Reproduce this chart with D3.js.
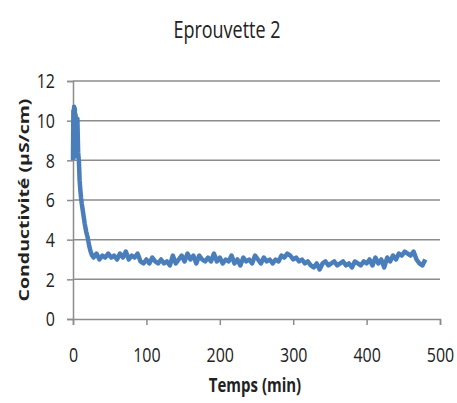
<!DOCTYPE html>
<html>
<head>
<meta charset="utf-8">
<script src="https://cdn.jsdelivr.net/npm/d3@7"></script>
<style>
    body { margin: 0; background: #fff; }
    text { font-family: "Open Sans", "Noto Sans", sans-serif; fill: #222; }
</style>
</head>
<body>
<div id="chart"></div>
<script>
// data
var timeMin = [0, 0.5, 1, 1.5, 2, 2.5, 3, 3.5, 4, 5, 6, 7, 8, 9, 10, 11, 12, 14, 16, 18, 20, 22, 24, 26,
    28, 32, 36, 40, 44, 48, 52, 56, 60, 64, 68, 72, 76, 80, 84, 88, 92, 96, 100, 104, 108, 112, 116, 120,
    124, 128, 132, 136, 140, 144, 148, 152, 156, 160, 164, 168, 172, 176, 180, 184, 188, 192, 196, 200,
    204, 208, 212, 216, 220, 224, 228, 232, 236, 240, 244, 248, 252, 256, 260, 264, 268, 272, 276, 280,
    284, 288, 292, 296, 300, 304, 308, 312, 316, 320, 324, 328, 332, 336, 340, 344, 348, 352, 356, 360,
    364, 368, 372, 376, 380, 384, 388, 392, 396, 400, 404, 408, 412, 416, 420, 424, 428, 432, 436, 440,
    444, 448, 452, 456, 460, 464, 468, 472, 476, 480];
var conductivity = [8.0, 10.5, 8.3, 10.7, 8.5, 10.6, 8.2, 10.3, 9.5, 8.9, 10.1, 8.4, 8.0, 7.0, 6.5, 6.1, 5.8, 5.3, 4.8, 4.4, 4.1, 3.7, 3.4, 3.2,
    3.1, 3.3, 3.0, 3.2, 3.1, 3.3, 3.1, 3.2, 3.0, 3.3, 3.1, 3.4, 3.0, 3.2, 3.1, 3.3, 2.9, 2.8, 3.0, 2.8, 3.1, 2.9, 2.8, 3.0,
    2.8, 2.9, 2.7, 3.2, 2.8, 3.0, 3.2, 2.9, 3.3, 3.0, 3.2, 2.8, 3.2, 3.0, 2.9, 3.1, 2.9, 3.3, 2.9, 3.1,
    2.8, 3.0, 2.9, 3.2, 2.8, 3.0, 2.7, 3.1, 2.9, 3.0, 2.8, 3.2, 3.0, 2.8, 3.1, 2.9, 3.0, 2.8, 3.0, 2.9,
    3.2, 3.1, 3.3, 3.2, 3.0, 3.1, 2.9, 3.0, 2.8, 2.9, 2.7, 2.6, 2.8, 2.5, 2.8, 2.9, 2.7, 2.8, 2.9, 2.7,
    2.8, 2.9, 2.7, 2.8, 2.6, 2.9, 2.8, 2.7, 2.9, 2.8, 3.0, 2.7, 3.1, 2.8, 3.0, 2.6, 3.1, 2.9, 3.2, 3.0,
    3.3, 3.2, 3.4, 3.3, 3.2, 3.4, 3.0, 2.8, 2.7, 3.0];
var xTicks = [0, 100, 200, 300, 400, 500];
var yTicks = [0, 2, 4, 6, 8, 10, 12];

var width = 457, height = 403;
var margin = { top: 81, right: 17, bottom: 84, left: 73 };
var w = width - margin.left - margin.right,
    h = height - margin.top - margin.bottom;
var stretch = 1.3; // the text in the picture is drawn taller than wide

var svg = d3.select("#chart")
    .append("svg")
    .attr("width", width)
    .attr("height", height);

var g = svg.append("g")
    .attr("transform", "translate(" + margin.left + "," + margin.top + ")");

var x = d3.scaleLinear().domain([0, 500]).range([0, w]);
var y = d3.scaleLinear().domain([0, 12]).range([h, 0]);

// gridlines
g.selectAll(".grid")
    .data(yTicks.filter(function (d) { return d > 0; }))
    .enter()
    .append("line")
    .attr("x1", 0).attr("x2", w)
    .attr("y1", function (d) { return y(d); })
    .attr("y2", function (d) { return y(d); })
    .attr("stroke", "#8c8c8c")
    .attr("stroke-width", 1.5);

// Y axis
var yAxis = g.append("g")
    .call(d3.axisLeft(y).tickValues(yTicks).tickSize(6).tickPadding(12));
// X axis
var xAxis = g.append("g")
    .attr("transform", "translate(0," + h + ")")
    .call(d3.axisBottom(x).tickValues(xTicks).tickSize(6));

[xAxis, yAxis].forEach(function (a) {
    a.select(".domain").attr("stroke", "#8c8c8c").attr("stroke-width", 1.5);
    a.selectAll(".tick line").attr("stroke", "#8c8c8c").attr("stroke-width", 1.5);
    a.selectAll(".tick text")
        .style("font-family", "'Open Sans', sans-serif")
        .style("font-size", "16px")
        .attr("fill", "#222")
        .attr("transform", "scale(1," + stretch + ")");
});
xAxis.selectAll(".tick text").attr("y", 22);

// the series
var line = d3.line()
    .x(function (d, i) { return x(timeMin[i]); })
    .y(function (d) { return y(d); });

g.append("path")
    .datum(conductivity)
    .attr("fill", "none")
    .attr("stroke", "#4a7ebb")
    .attr("stroke-width", 4.5)
    .attr("stroke-linejoin", "round")
    .attr("d", line);

// titles
svg.append("text")
    .attr("transform", "translate(227,38) scale(1," + stretch + ")")
    .attr("text-anchor", "middle")
    .style("font-size", "18px")
    .text("Eprouvette 2");

svg.append("text")
    .attr("transform", "translate(255,392) scale(1," + stretch + ")")
    .attr("text-anchor", "middle")
    .style("font-size", "15px")
    .style("font-weight", "bold")
    .text("Temps (min)");

svg.append("text")
    .attr("transform", "translate(29,200) scale(1," + stretch + ") rotate(-90)")
    .attr("text-anchor", "middle")
    .style("font-size", "15px")
    .style("font-weight", "bold")
    .text("Conductivité (µS/cm)");
</script>
</body>
</html>
